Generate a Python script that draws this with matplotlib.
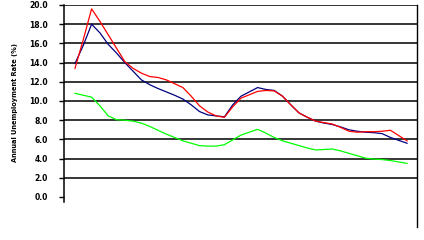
import matplotlib
matplotlib.use('Agg')
import matplotlib.pyplot as plt
import numpy as np

# half-yearly readings
red = [13.4, 16.4, 19.6, 18.3, 16.9, 15.5, 14.1, 13.4, 12.9, 12.55,
       12.45, 12.2, 11.8, 11.4, 10.5, 9.5, 8.85, 8.45, 8.3, 9.4,
       10.3, 10.65, 11.0, 11.1, 11.05, 10.5, 9.6, 8.75, 8.3, 7.9,
       7.75, 7.6, 7.25, 6.85, 6.75, 6.8, 6.8, 6.85, 6.95, 6.4, 5.85]
blue = [13.9, 15.8, 18.0, 17.1, 15.9, 15.0, 14.0, 13.1, 12.2, 11.7,
        11.3, 10.95, 10.6, 10.2, 9.6, 8.9, 8.55, 8.45, 8.35, 9.6,
        10.5, 10.95, 11.4, 11.2, 11.1, 10.5, 9.6, 8.75, 8.3, 7.9,
        7.7, 7.55, 7.3, 7.0, 6.85, 6.75, 6.7, 6.6, 6.2, 5.9, 5.6]
green = [10.8, 10.6, 10.4, 9.5, 8.45, 8.05, 8.0, 7.9, 7.7, 7.35,
         6.95, 6.55, 6.2, 5.85, 5.6, 5.35, 5.3, 5.3, 5.45, 5.95,
         6.45, 6.75, 7.05, 6.65, 6.2, 5.85, 5.6, 5.35, 5.1, 4.9,
         4.95, 5.0, 4.8, 4.55, 4.3, 4.05, 3.95, 3.9, 3.8, 3.65, 3.5]
yticks = [0, 2, 4, 6, 8, 10, 12, 14, 16, 18, 20]
ylabel = 'Annual Unemployment Rate (%)'

x = np.arange(len(red))

fig = plt.figure(figsize=(4.24, 2.40), dpi=100)
fig.patch.set_facecolor('white')
ax = fig.add_axes([64 / 424, 43 / 240, 353 / 424, 192 / 240])

for v in yticks[1:]:
    ax.axhline(v, color='black', lw=1.1, zorder=1)

ax.plot(x, green, color='#00ff00', lw=0.9, zorder=3)
ax.plot(x, blue, color='#000080', lw=0.9, zorder=3)
ax.plot(x, red, color='#ff0000', lw=0.9, zorder=3)

ax.set_xlim(-1.325, 41.2)
ax.set_ylim(0, 20)
ax.set_xticks([])
ax.set_yticks(yticks)
ax.set_yticklabels(['%.1f' % v for v in yticks], fontsize=5.5,
                   fontweight='bold')
ax.tick_params(axis='y', length=3.5, width=1.0, pad=8)

for s in ax.spines.values():
    s.set_visible(False)

# left axis line runs a little below zero, right border further down
ax.plot([0, 0], [1, -0.026], transform=ax.transAxes, color='black',
        lw=1.1, clip_on=False)
ax.plot([1, 1], [1, -0.156], transform=ax.transAxes, color='black',
        lw=1.0, clip_on=False)

fig.text(15 / 424, 1 - 103 / 240, ylabel, rotation=90, fontsize=4.8,
         fontweight='bold', ha='center', va='center')

fig.savefig('out.png', dpi=100)
